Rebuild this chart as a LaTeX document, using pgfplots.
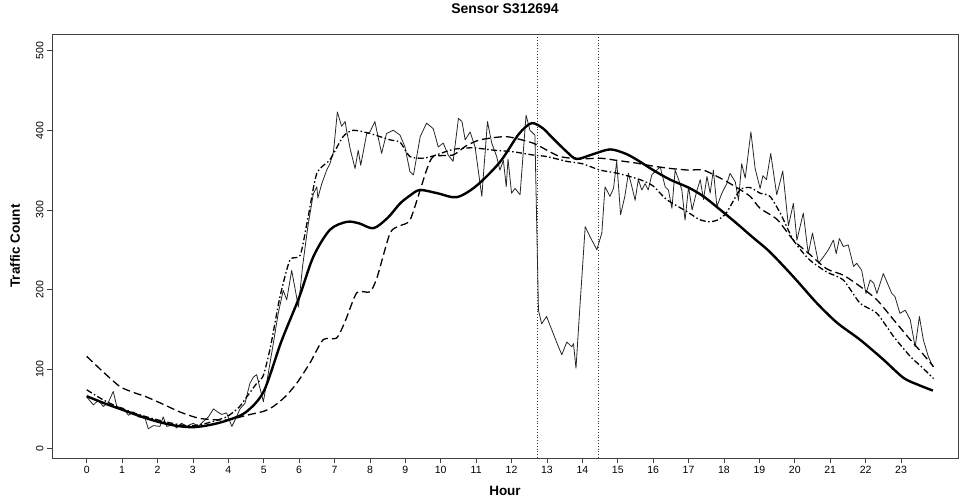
\documentclass[border=0pt]{standalone}
\usepackage{fontspec}
\setmainfont{Liberation Sans}
\usepackage{pgfplots}
\pgfplotsset{compat=1.18}

\begin{document}
\begin{tikzpicture}
\useasboundingbox (-52pt,-43pt) rectangle (910pt,458pt);
\begin{axis}[
  at={(0,0)}, anchor=south west,
  scale only axis, width=906pt, height=424pt,
  xmin=-0.98, xmax=24.61, ymin=-11.7, ymax=521,
  xtick={0,1,...,23}, ytick={0,100,...,500},
  xtick pos=left, ytick pos=left,
  tick align=outside, major tick length=5pt,
  axis line style={black!75, line width=0.6pt},
  tick style={black!75, line width=0.6pt},
  ticklabel style={font=\fontsize{10.5}{12}\selectfont},
  yticklabel style={rotate=90, anchor=south},
  /pgf/number format/assume math mode=true,
  title={Sensor S312694},
  title style={font=\fontsize{14}{16}\selectfont\bfseries, at={(axis description cs:0.5,1.0448)}, anchor=center},
  xlabel={Hour}, ylabel={Traffic Count},
  xlabel style={font=\fontsize{13.5}{15}\selectfont\bfseries, at={(axis description cs:0.5,-0.0767)}, anchor=center},
  ylabel style={font=\fontsize{13.5}{15}\selectfont\bfseries, at={(axis description cs:-0.0408,0.5)}, anchor=center},
  clip=true,
]
% vertical dotted lines
\addplot[black!80, line width=0.8pt, dash pattern=on 1pt off 1.8pt] coordinates {(12.72,-11.7) (12.72,521)};
\addplot[black!80, line width=0.8pt, dash pattern=on 1pt off 1.8pt] coordinates {(14.45,-11.7) (14.45,521)};

% observed (thin, noisy)
\addplot[black!85, line width=0.8pt, line join=round] coordinates {
(0,65) (0.19,55) (0.33,61) (0.47,53) (0.61,58) (0.75,72) (0.85,53) (1.03,51) (1.18,42) (1.32,46)
(1.46,40) (1.65,38) (1.74,25) (1.88,29) (2.07,28) (2.16,40) (2.26,28) (2.45,30) (2.54,26) (2.68,32)
(2.82,28) (3.01,32) (3.15,28) (3.29,34) (3.44,40) (3.58,50) (3.67,47) (3.81,43) (3.95,45) (4.10,28)
(4.19,36) (4.33,50) (4.47,57) (4.61,82) (4.71,90) (4.80,93) (4.99,59) (5.13,95) (5.27,132) (5.41,170)
(5.55,199) (5.65,187) (5.79,224) (5.98,178) (6.10,230) (6.25,280) (6.40,320) (6.50,329) (6.53,315) (6.64,333)
(6.78,350) (6.87,358) (6.97,373) (7.08,423) (7.20,405) (7.30,411) (7.34,400) (7.45,375) (7.58,352) (7.67,375)
(7.74,356) (7.91,396) (8.00,398) (8.14,411) (8.20,398) (8.33,371) (8.47,396) (8.66,400) (8.85,394) (8.99,379)
(9.13,348) (9.23,344) (9.42,392) (9.60,409) (9.79,402) (9.93,379) (10.07,384) (10.21,369) (10.35,361) (10.50,415)
(10.60,411) (10.69,388) (10.83,398) (10.97,379) (11.16,317) (11.32,411) (11.44,384) (11.58,367) (11.67,350) (11.77,362)
(11.85,329) (11.90,364) (12.00,321) (12.10,327) (12.24,319) (12.41,419) (12.52,400) (12.66,394) (12.76,174) (12.85,157)
(12.99,166) (13.14,149) (13.28,133) (13.42,118) (13.56,134) (13.70,128) (13.75,132) (13.82,101) (13.93,178) (14.03,245)
(14.08,279) (14.22,266) (14.41,250) (14.55,271) (14.64,329) (14.78,317) (14.88,327) (14.97,361) (15.08,294) (15.20,317)
(15.30,346) (15.40,329) (15.49,312) (15.58,338) (15.68,325) (15.77,333) (15.86,325) (15.96,344) (16.10,350) (16.20,354)
(16.34,329) (16.43,325) (16.53,302) (16.62,350) (16.72,338) (16.81,325) (16.90,287) (17.00,329) (17.10,300) (17.24,325)
(17.33,338) (17.42,313) (17.52,342) (17.61,321) (17.70,350) (17.80,304) (17.94,321) (18.08,333) (18.17,346) (18.32,335)
(18.41,312) (18.50,358) (18.60,340) (18.76,398) (18.88,352) (19.02,327) (19.10,343) (19.20,338) (19.32,371) (19.49,319)
(19.60,338) (19.66,349) (19.82,280) (19.96,308) (20.06,262) (20.24,296) (20.38,245) (20.50,271) (20.67,233) (20.81,241)
(20.95,250) (21.09,262) (21.17,245) (21.26,264) (21.37,254) (21.51,256) (21.66,229) (21.75,233) (21.89,224) (22.01,195)
(22.13,212) (22.23,208) (22.32,195) (22.50,220) (22.74,195) (22.83,191) (22.97,170) (23.12,174) (23.26,162) (23.40,128)
(23.52,166) (23.63,137) (23.77,116) (23.90,103)
};

% dashed
\addplot[black, line width=1.3pt, dash pattern=on 8pt off 4pt, smooth, tension=0.4] coordinates {
(0,116) (0.5,95) (0.94,78) (1.3,71) (1.69,65) (2.2,55) (2.64,46) (3.2,38) (3.95,36) (4.52,42)
(5.0,47) (5.27,53) (5.6,65) (5.93,82) (6.31,108) (6.68,137) (7.06,139) (7.3,160) (7.63,196) (8.0,197)
(8.2,215) (8.57,271) (8.85,280) (9.13,287) (9.42,325) (9.6,350) (9.79,367) (10.35,369) (10.7,380) (11.11,388)
(11.86,392) (12.6,384) (13.0,375) (13.37,367) (13.93,364) (14.5,365) (15.0,362) (15.5,359) (16.0,355) (16.5,352)
(17.0,350) (17.42,350) (17.98,338) (18.4,327) (18.74,317) (19.02,302) (19.5,288) (19.96,262) (20.4,245) (20.9,226)
(21.37,218) (21.84,204) (22.32,187) (22.79,162) (23.26,137) (23.6,120) (23.92,103)
};

% dash-dot
\addplot[black, line width=1.3pt, dash pattern=on 6pt off 2.5pt on 1.5pt off 2.5pt, smooth, tension=0.4] coordinates {
(0,74) (0.4,63) (0.75,55) (1.2,47) (1.69,40) (2.2,34) (2.64,30) (3.0,29) (3.39,32) (3.95,40)
(4.3,52) (4.52,65) (4.8,82) (4.99,92) (5.2,130) (5.46,191) (5.74,237) (6.03,243) (6.25,290) (6.5,346)
(6.87,363) (7.24,392) (7.53,400) (8.0,396) (8.57,388) (8.85,385) (9.13,367) (9.5,365) (9.8,368) (10.35,376)
(10.9,378) (11.5,375) (12.05,373) (12.6,369) (13.0,367) (13.56,361) (14.0,358) (14.5,350) (15.0,346) (15.63,338)
(16.0,330) (16.38,313) (16.95,298) (17.3,288) (17.6,285) (17.85,288) (18.08,297) (18.45,325) (18.74,328) (19.02,321)
(19.3,317) (19.6,295) (19.96,262) (20.4,238) (20.9,222) (21.37,212) (21.84,183) (22.32,170) (22.79,141) (23.26,116)
(23.6,102) (23.92,88)
};

% thick smooth
\addplot[black, line width=2.4pt, smooth, tension=0.5] coordinates {
(0,66) (0.5,57) (1,49) (1.5,41) (2,34) (2.5,29) (3,27) (3.5,30) (4,36) (4.5,46)
(5,72) (5.5,135) (6,190) (6.4,241) (6.87,275) (7.35,285) (7.7,283) (8.1,277) (8.5,290) (8.85,308)
(9.13,318) (9.41,325) (9.9,321) (10.45,316) (11,330) (11.67,360) (12.2,395) (12.57,409) (12.9,402) (13.1,393)
(13.56,373) (13.84,364) (14.3,370) (14.78,376) (15.2,371) (15.54,363) (16,350) (16.48,338) (17,328) (17.42,317)
(17.9,300) (18.36,283) (18.8,266) (19.3,247) (19.96,216) (20.62,183) (21.2,158) (21.84,137) (22.5,112) (23.07,89)
(23.5,80) (23.9,73)
};
\end{axis}
\end{tikzpicture}
\end{document}
